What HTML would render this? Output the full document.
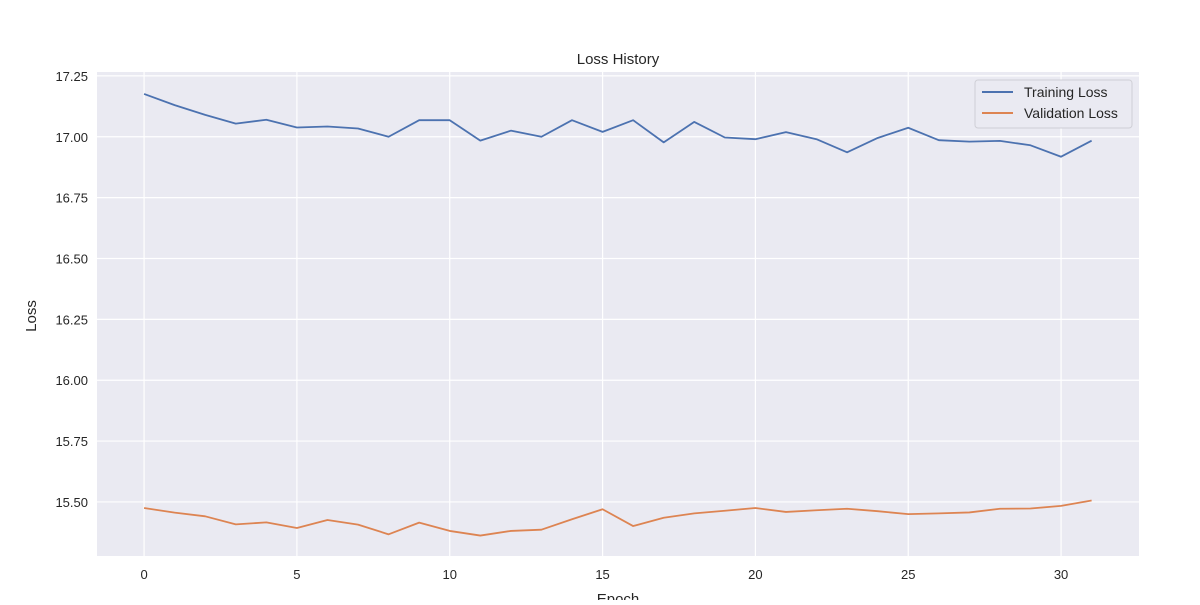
<!DOCTYPE html>
<html><head><meta charset="utf-8"><style>
body{margin:0;background:#fff;}
svg text{font-family:"Liberation Sans",sans-serif;fill:#262626;}
</style></head><body>
<svg id="chart" width="1200" height="600">
<rect x="97" y="72" width="1042" height="484" fill="#eaeaf2"/>
<g id="grid"></g><g id="ticks"></g><g id="lines"></g>
<text x="618" y="64" font-size="15" text-anchor="middle">Loss History</text>
<text x="618" y="604" font-size="15" text-anchor="middle">Epoch</text>
<text x="0" y="0" font-size="15" text-anchor="middle" transform="translate(36,316) rotate(-90)">Loss</text>
<g>
<rect x="975" y="80" width="157" height="48" rx="3" fill="#eaeaf2" stroke="#cfcfd6"/>
<line x1="982" y1="92" x2="1013" y2="92" stroke="#4c72b0" stroke-width="2"/>
<text x="1024" y="97" font-size="14">Training Loss</text>
<line x1="982" y1="113" x2="1013" y2="113" stroke="#dd8452" stroke-width="2"/>
<text x="1024" y="118" font-size="14">Validation Loss</text>
</g>
</svg>
<script>
const epochs=[...Array(32).keys()];
const trainingLoss=[17.176,17.13,17.09,17.054,17.07,17.038,17.042,17.034,17.0,17.068,17.068,16.984,17.025,17.0,17.068,17.02,17.068,16.977,17.061,16.997,16.99,17.019,16.99,16.936,16.995,17.037,16.986,16.98,16.983,16.965,16.918,16.984];
const validationLoss=[15.475,15.456,15.441,15.408,15.416,15.393,15.426,15.407,15.367,15.415,15.381,15.362,15.381,15.386,15.429,15.47,15.401,15.435,15.453,15.464,15.475,15.459,15.466,15.472,15.462,15.45,15.453,15.457,15.472,15.473,15.484,15.506];
const xTicks=[0,5,10,15,20,25,30];
const yTicks=[15.5,15.75,16.0,16.25,16.5,16.75,17.0,17.25];
const NS="http://www.w3.org/2000/svg";
const X0=97,X1=1139,Y0=556,Y1=72,xMin=-1.54,xMax=32.55,yMin=15.278,yMax=17.266;
const sx=v=>X0+(v-xMin)/(xMax-xMin)*(X1-X0);
const sy=v=>Y0-(v-yMin)/(yMax-yMin)*(Y0-Y1);
const grid=document.getElementById('grid'),ticks=document.getElementById('ticks'),lines=document.getElementById('lines');
function mk(tag,attrs,parent){const e=document.createElementNS(NS,tag);for(const k in attrs)e.setAttribute(k,attrs[k]);parent.appendChild(e);return e;}
xTicks.forEach(t=>{
 const l=mk('line',{x1:sx(t),x2:sx(t),y1:Y1,y2:Y0,stroke:'#fff','stroke-width':1.2},grid);
 
 
 const tx=mk('text',{x:sx(t),y:Y0+23,'font-size':13,'text-anchor':'middle'},ticks);tx.textContent=t;
 
 
});
yTicks.forEach(t=>{
 const l=mk('line',{x1:X0,x2:X1,y1:sy(t),y2:sy(t),stroke:'#fff','stroke-width':1.2},grid);
 
 
 const tx=mk('text',{x:X0-9,y:sy(t)+5,'font-size':13,'text-anchor':'end'},ticks);tx.textContent=t.toFixed(2);
 
 
});
function series(vals,color,name){
 const p=mk('polyline',{points:vals.map((v,i)=>sx(epochs[i])+','+sy(v)).join(' '),fill:'none',stroke:color,'stroke-width':1.8,'stroke-linejoin':'round'},lines);
 
 
}
series(trainingLoss,'#4c72b0','training-loss-line');
series(validationLoss,'#dd8452','validation-loss-line');
</script>
</body></html>
